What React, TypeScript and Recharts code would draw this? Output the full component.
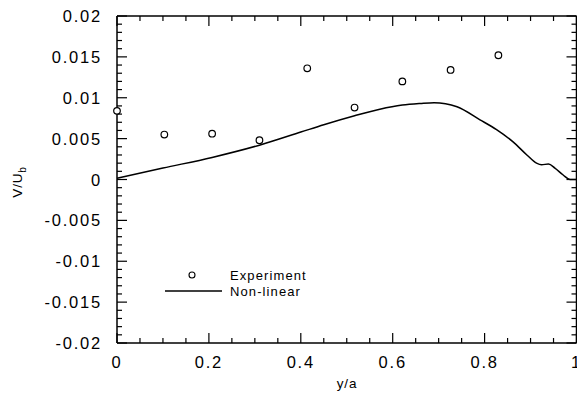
import { ComposedChart, Line, Scatter, XAxis, YAxis, ReferenceLine } from 'recharts';

// experiment points (y/a, V/Ub)
const expX = [0, 0.103, 0.207, 0.31, 0.414, 0.517, 0.621, 0.726, 0.83];
const expV = [0.0084, 0.0055, 0.0056, 0.0048, 0.0136, 0.0088, 0.012, 0.0134, 0.0152];

// non-linear computation
const nlX = [0, 0.1, 0.207, 0.31, 0.4, 0.45, 0.517, 0.572, 0.621, 0.66, 0.69, 0.74, 0.79, 0.826, 0.862, 0.892, 0.913, 0.924, 0.939, 0.953, 0.971, 0.986, 1.0];
const nlV = [0.00015, 0.0014, 0.0027, 0.0042, 0.0058, 0.0067, 0.0078, 0.0086, 0.0091, 0.0093, 0.0094, 0.0089, 0.0073, 0.0061, 0.0046, 0.003, 0.002, 0.0018, 0.0019, 0.0014, 0.00055, 0.0, 0.0];

const xMajor = [0, 0.2, 0.4, 0.6, 0.8, 1];
const yMajor = [-0.02, -0.015, -0.01, -0.005, 0, 0.005, 0.01, 0.015, 0.02];

const xMinor = Array.from({ length: 21 }, (_, i) => Number((i * 0.05).toFixed(2)));
const yMinor = Array.from({ length: 41 }, (_, i) => Number((-0.02 + i * 0.001).toFixed(3)));

const expData = expX.map((x, i) => ({ x, v: expV[i] }));
const nlData = nlX.map((x, i) => ({ x, v: nlV[i] }));

const X0 = 0, X1 = 1, Y0 = -0.02, Y1 = 0.02;
// inward tick lengths in data units (plot is ~459 x 327 px)
const xPx = (X1 - X0) / 459.5;
const yPx = (Y1 - Y0) / 327;

const font = '"Liberation Sans", Arial, Helvetica, sans-serif';
const black = { stroke: '#000', strokeWidth: 1.5 };

const isMajor = (v: number, list: number[]) => list.some((m) => Math.abs(m - v) < 1e-9);

const BottomLabel = ({ x, y, payload }: any) => (
  <text x={x} y={y + 25} textAnchor="middle" fontSize={16.5} letterSpacing={1.8} fill="#000" fontFamily={font}>
    {String(payload.value)}
  </text>
);

const LeftLabel = ({ x, y, payload }: any) => (
  <text x={x - 15} y={y + 6} textAnchor="end" fontSize={16.5} letterSpacing={1.8} fill="#000" fontFamily={font}>
    {String(payload.value)}
  </text>
);

const OpenCircle = (props: any) => (
  <circle cx={props.cx} cy={props.cy} r={3.3} fill="#fff" stroke="#000" strokeWidth={1.2} />
);

const seg = (key: string, a: { x: number; y: number }, b: { x: number; y: number }) => (
  <ReferenceLine
    key={key}
    xAxisId="b"
    yAxisId="l"
    segment={[a, b]}
    stroke="#000"
    strokeWidth={1.2}
    ifOverflow="visible"
  />
);

const frameTicks = () => {
  const out: any[] = [];
  xMinor.forEach((t) => {
    const len = (isMajor(t, xMajor) ? 10 : 5) * yPx;
    out.push(seg(`b${t}`, { x: t, y: Y0 }, { x: t, y: Y0 + len }));
    out.push(seg(`t${t}`, { x: t, y: Y1 }, { x: t, y: Y1 - len }));
  });
  yMinor.forEach((t) => {
    const len = (isMajor(t, yMajor) ? 10 : 5) * xPx;
    out.push(seg(`l${t}`, { x: X0, y: t }, { x: X0 + len, y: t }));
    out.push(seg(`r${t}`, { x: X1, y: t }, { x: X1 - len, y: t }));
  });
  return out;
};

export default function App() {
  return (
    <div style={{ position: 'absolute', left: 0, top: 0, width: 577, height: 398, overflow: 'hidden', background: '#fff' }}>
      <ComposedChart width={577} height={398} margin={{ top: 16, right: 0.5, bottom: 0, left: 0 }}>
        <XAxis
          xAxisId="b"
          dataKey="x"
          type="number"
          domain={[X0, X1]}
          ticks={xMajor}
          interval={0}
          tickLine={false}
          tickSize={0}
          tickMargin={0}
          height={55}
          axisLine={black}
          tick={<BottomLabel />}
        />
        <YAxis
          yAxisId="l"
          dataKey="v"
          type="number"
          domain={[Y0, Y1]}
          ticks={yMajor}
          interval={0}
          tickLine={false}
          tickSize={0}
          tickMargin={0}
          width={117}
          axisLine={black}
          tick={<LeftLabel />}
        />
        <ReferenceLine xAxisId="b" yAxisId="l" y={Y1} stroke="#000" strokeWidth={1.5} ifOverflow="visible" />
        <ReferenceLine xAxisId="b" yAxisId="l" x={X1} stroke="#000" strokeWidth={1.5} ifOverflow="visible" />
        {frameTicks()}
        <Line
          xAxisId="b"
          yAxisId="l"
          data={nlData}
          dataKey="v"
          type="monotone"
          stroke="#000"
          strokeWidth={1.5}
          dot={false}
          isAnimationActive={false}
        />
        <Scatter
          xAxisId="b"
          yAxisId="l"
          data={expData}
          dataKey="v"
          shape={<OpenCircle />}
          isAnimationActive={false}
        />
        {/* legend */}
        <circle cx={192} cy={275} r={3} fill="#fff" stroke="#000" strokeWidth={1.1} />
        <line x1={165} x2={222} y1={291} y2={291} stroke="#000" strokeWidth={1.3} />
        <text x={230} y={279.5} fontSize={13} letterSpacing={1.1} fontFamily={font} fill="#000">Experiment</text>
        <text x={230} y={295.5} fontSize={13} letterSpacing={1.1} fontFamily={font} fill="#000">Non-linear</text>
        <text x={347} y={388} textAnchor="middle" fontSize={13.5} letterSpacing={0.8} fontFamily={font} fill="#000">
          y/a
        </text>
        <text transform="translate(22,182) rotate(-90)" textAnchor="middle" fontSize={13.5} letterSpacing={0.8} fontFamily={font} fill="#000">
          V/U<tspan fontSize={10} dy={4}>b</tspan>
        </text>
      </ComposedChart>
    </div>
  );
}
